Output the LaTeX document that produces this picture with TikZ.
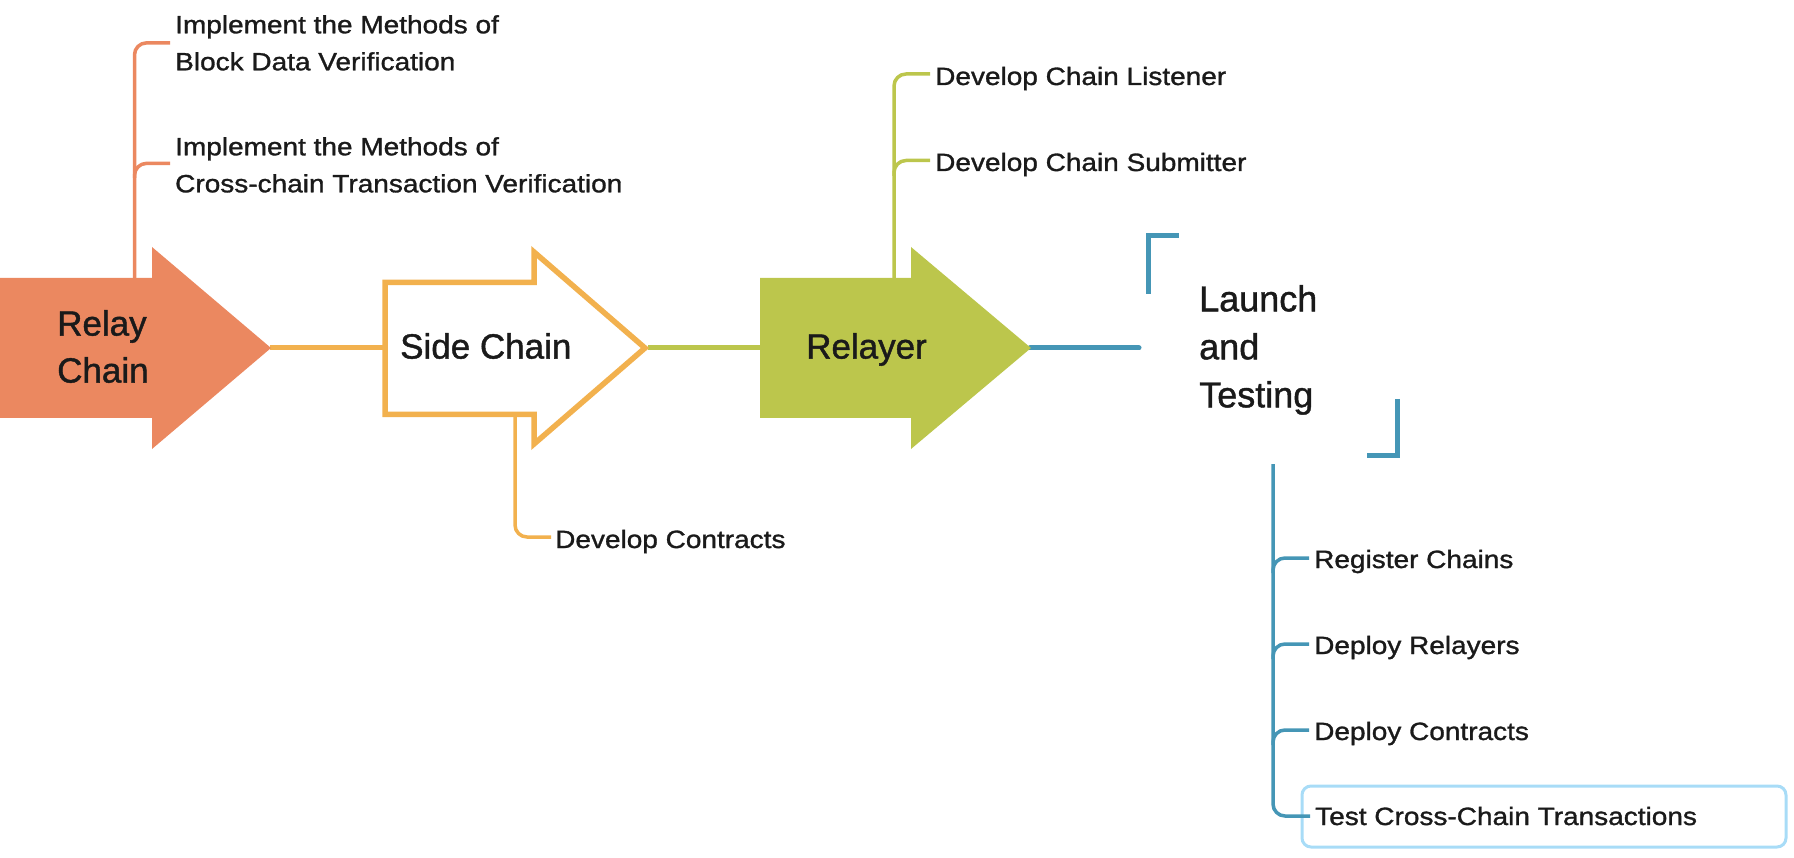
\documentclass[tikz,border=0pt]{standalone}
\usepackage{fontspec}
\setmainfont{Liberation Sans}
\newfontfamily\bigfont[FakeBold=1.2]{Liberation Sans}
\newfontfamily\subfont[FakeStretch=1.12,FakeBold=1.2]{Liberation Sans}
\definecolor{relayc}{HTML}{EB8860}
\definecolor{sidec}{HTML}{F2B14E}
\definecolor{greenc}{HTML}{BCC64C}
\definecolor{bluec}{HTML}{4596B6}
\definecolor{hlc}{HTML}{A8DCF7}
\definecolor{txt}{HTML}{1A1A1A}
\begin{document}
\begin{tikzpicture}[x=1pt,y=-1pt,
  big/.style={inner sep=0pt, anchor=north west, align=left, text=txt, font=\bigfont\fontsize{35}{47}\selectfont},
  sub/.style={inner sep=0pt, anchor=base west, text=txt, font=\subfont\fontsize{25}{37}\selectfont},
  subtwo/.style={inner sep=0pt, anchor=north west, align=left, text=txt, font=\subfont\fontsize{25}{37}\selectfont},
  branch/.style={line width=3.5pt, rounded corners=12pt},
  link/.style={line width=5pt},
  bracket/.style={bluec, line width=5pt, miter limit=10},
]
\useasboundingbox (0,0) rectangle (1794,858);

% anchor points of the main arrows
\coordinate (rc-tip) at (270,348);
\coordinate (sc-left) at (383,348);
\coordinate (sc-tip) at (648,348);
\coordinate (rl-left) at (761,348);
\coordinate (rl-tip) at (1030,348);
\coordinate (lt-in) at (1139,348);
\coordinate (rc-top) at (134.5,280);
\coordinate (rc-fork) at (134.5,178);
\coordinate (sc-bottom) at (515,412);
\coordinate (rl-top) at (894,280);
\coordinate (rl-fork) at (894,176);
\coordinate (lt-down) at (1273,464);
\coordinate (lt-f1) at (1273,573);
\coordinate (lt-f2) at (1273,659);
\coordinate (lt-f3) at (1273,745);

% texts
\node[subtwo] (impl1) at (175,15) {Implement the Methods of\\Block Data Verification};
\node[subtwo] (impl2) at (175,137) {Implement the Methods of\\Cross-chain Transaction Verification};
\node[sub] (listener) at (935,85) {Develop Chain Listener};
\node[sub] (submitter) at (935,171) {Develop Chain Submitter};
\node[sub] (contracts) at (555,548) {Develop Contracts};
\node[sub] (register) at (1314,568) {Register Chains};
\node[sub] (deployrel) at (1314,654) {Deploy Relayers};
\node[sub] (deploycon) at (1314,740) {Deploy Contracts};
\node[sub] (testcc) at (1315,825) {Test Cross-Chain Transactions};

% highlight frame
\draw[hlc, line width=3pt, rounded corners=9pt] (1302,786) rectangle (1786,847);

% main connectors
\draw[link, sidec] (rc-tip) -- (sc-left);
\draw[link, greenc] (sc-tip) -- (rl-left);
\draw[link, bluec, line cap=round] (rl-tip) -- (lt-in);

% branches
\draw[branch, relayc] (rc-top) |- ([xshift=-5pt]impl1.west);
\draw[branch, relayc] (rc-fork) |- ([xshift=-5pt,yshift=1.5pt]impl2.west);
\draw[branch, sidec] (sc-bottom) |- ([xshift=-4pt,yshift=11pt]contracts.base west);
\draw[branch, greenc] (rl-top) |- ([xshift=-5pt,yshift=11pt]listener.base west);
\draw[branch, greenc] (rl-fork) |- ([xshift=-5pt,yshift=10.5pt]submitter.base west);
\draw[branch, bluec] (lt-down) |- ([xshift=-5pt,yshift=9pt]testcc.base west);
\draw[branch, bluec] (lt-f1) |- ([xshift=-5pt,yshift=10pt]register.base west);
\draw[branch, bluec] (lt-f2) |- ([xshift=-5pt,yshift=10pt]deployrel.base west);
\draw[branch, bluec] (lt-f3) |- ([xshift=-5pt,yshift=10pt]deploycon.base west);

% main arrows
\fill[relayc] (0,278) -- (152,278) -- (152,247) -- (271,348) -- (152,449) -- (152,418) -- (0,418) -- cycle;
\draw[sidec, fill=white, line width=5.5pt, miter limit=10] (385,282.5) -- (534,282.5) -- (534,252) -- (645,348) -- (534,444) -- (534,414.5) -- (385,414.5) -- cycle;
\fill[greenc] (760,278) -- (911,278) -- (911,247) -- (1031,348) -- (911,449) -- (911,418) -- (760,418) -- cycle;

% brackets of the last stage
\draw[bracket] (1148.5,294) -- (1148.5,236) -- (1179,236);
\draw[bracket] (1397.5,399) -- (1397.5,455.5) -- (1367,455.5);

% stage labels
\node[big] (relay) at (57,310) {Relay\\Chain};
\node[big] (side) at (400,333) {Side Chain};
\node[big] (relayer) at (806,333) {Relayer};
\node[big, font=\bigfont\fontsize{36}{48}\selectfont] (launch) at (1199,285) {Launch\\and\\Testing};
\end{tikzpicture}
\end{document}
